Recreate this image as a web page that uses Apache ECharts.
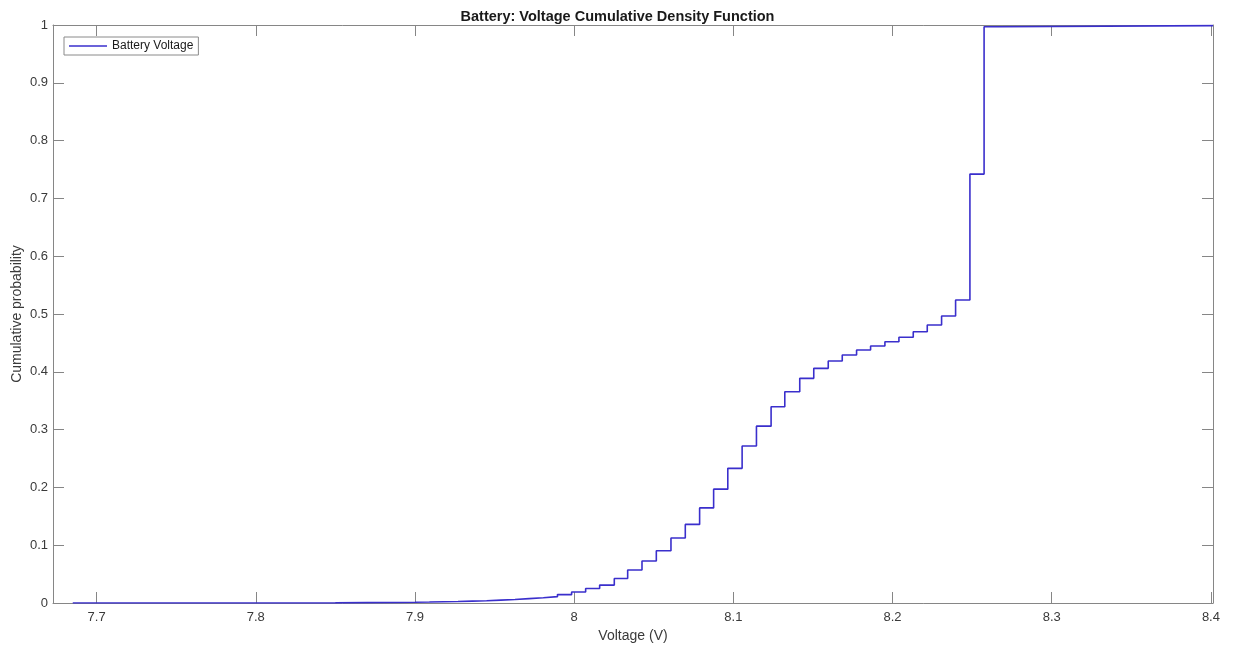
<!DOCTYPE html>
<html>
<head>
<meta charset="utf-8">
<title>Battery: Voltage Cumulative Density Function</title>
<script src="https://cdn.jsdelivr.net/npm/echarts@6/dist/echarts.min.js"></script>
<style>
  html, body { margin: 0; padding: 0; background: #ffffff; }
  #chart { width: 1235px; height: 650px; }
</style>
</head>
<body>
<div id="chart"></div>
<script>
// Empirical CDF of the battery voltage: each voltage is where the curve steps up to its probability.
const voltages = [
  7.685, 7.80, 7.85, 7.87, 7.89, 7.900, 7.909, 7.918, 7.927, 7.936, 7.945,
  7.9539, 7.9628, 7.9717, 7.9806, 7.9895, 7.9984, 8.0072, 8.0160, 8.0252,
  8.0336, 8.0426, 8.0516, 8.0608, 8.0698, 8.0788, 8.0876, 8.0965, 8.1055,
  8.1145, 8.1237, 8.1323, 8.1417, 8.1505, 8.1596, 8.1684, 8.1774, 8.1862,
  8.1952, 8.2040, 8.2130, 8.2218, 8.2308, 8.2396, 8.2486, 8.2575, 8.2664,
  8.4013
];
const probabilities = [
  0, 0.0003, 0.0006, 0.0009, 0.0013, 0.0017, 0.0022, 0.0027, 0.0033, 0.004, 0.005,
  0.006, 0.0075, 0.009, 0.011, 0.0145, 0.019, 0.025, 0.031, 0.0425,
  0.0571, 0.0727, 0.0905, 0.1125, 0.136, 0.1645, 0.197, 0.233, 0.2716,
  0.306, 0.3396, 0.3656, 0.3887, 0.406, 0.4187, 0.429, 0.4377, 0.4446,
  0.452, 0.4597, 0.4694, 0.481, 0.4965, 0.5242, 0.742, 0.997, 0.999,
  1
];
const xTickLabels = ['7.7', '7.8', '7.9', '8', '8.1', '8.2', '8.3', '8.4'];
const yTickLabels = ['0', '0.1', '0.2', '0.3', '0.4', '0.5', '0.6', '0.7', '0.8', '0.9', '1'];
const seriesName = 'Battery Voltage';
const xRange = [7.6726, 8.4013];

const xTickValues = xTickLabels.map(Number);
const FONT = '"Liberation Sans", Arial, Helvetica, sans-serif';
const AXIS_COLOR = '#868686';
const TEXT_COLOR = '#3a3a3a';
const LINE_COLOR = '#3a2fcc';

const points = voltages.map((v, i) => [v, probabilities[i]]);

function xAxisBase(position, showLabels) {
  return {
    type: 'value',
    position: position,
    min: xRange[0],
    max: xRange[1],
    axisLine: { show: true, onZero: false, lineStyle: { color: AXIS_COLOR, width: 1 } },
    axisTick: {
      show: true, inside: true, length: 11,
      customValues: xTickValues,
      lineStyle: { color: AXIS_COLOR, width: 1 }
    },
    axisLabel: {
      show: showLabels,
      customValues: xTickValues,
      margin: 8,
      color: TEXT_COLOR,
      fontSize: 13,
      fontFamily: FONT,
      formatter: v => String(+Number(v).toFixed(1))
    },
    splitLine: { show: false }
  };
}

function yAxisBase(position, showLabels) {
  return {
    type: 'value',
    position: position,
    min: 0,
    max: 1,
    interval: 0.1,
    axisLine: { show: true, onZero: false, lineStyle: { color: AXIS_COLOR, width: 1 } },
    axisTick: { show: true, inside: true, length: 11, lineStyle: { color: AXIS_COLOR, width: 1 } },
    axisLabel: {
      show: showLabels,
      margin: 5,
      color: TEXT_COLOR,
      fontSize: 13,
      fontFamily: FONT,
      formatter: v => yTickLabels[Math.round(v * 10)]
    },
    splitLine: { show: false }
  };
}

const xMain = Object.assign(xAxisBase('bottom', true), {
  name: 'Voltage (V)',
  nameLocation: 'middle',
  nameGap: 26,
  nameMoveOverlap: false,
  nameTextStyle: { color: TEXT_COLOR, fontSize: 14, fontFamily: FONT }
});
const yMain = Object.assign(yAxisBase('left', true), {
  name: 'Cumulative probability',
  nameLocation: 'middle',
  nameGap: 29,
  nameMoveOverlap: false,
  nameTextStyle: { color: TEXT_COLOR, fontSize: 14, fontFamily: FONT }
});

const chart = echarts.init(document.getElementById('chart'), null, { renderer: 'canvas' });
chart.setOption({
  backgroundColor: '#ffffff',
  animation: false,
  title: {
    text: 'Battery: Voltage Cumulative Density Function',
    left: 'center',
    top: 9,
    padding: 0,
    textStyle: { color: '#1a1a1a', fontSize: 14.5, fontWeight: 'bold', fontFamily: FONT }
  },
  grid: { left: 53, right: 22, top: 25, bottom: 47, containLabel: false, outerBoundsMode: 'none' },
  legend: {
    data: [{ name: seriesName, icon: 'rect' }],
    left: 64,
    top: 37,
    orient: 'vertical',
    padding: [3, 5, 3, 5],
    itemWidth: 38,
    itemHeight: 1.6,
    itemGap: 0,
    borderColor: '#8a8a8a',
    borderWidth: 1,
    backgroundColor: '#ffffff',
    itemStyle: { color: LINE_COLOR, borderWidth: 0 },
    textStyle: { color: '#1a1a1a', fontSize: 12, fontFamily: FONT }
  },
  xAxis: [xMain, xAxisBase('top', false)],
  yAxis: [yMain, yAxisBase('right', false)],
  series: [{
    name: seriesName,
    type: 'line',
    xAxisIndex: 0,
    yAxisIndex: 0,
    step: 'end',
    symbol: 'none',
    showSymbol: false,
    data: points,
    lineStyle: { color: LINE_COLOR, width: 1.6 },
    itemStyle: { color: LINE_COLOR }
  }]
});
</script>
</body>
</html>
